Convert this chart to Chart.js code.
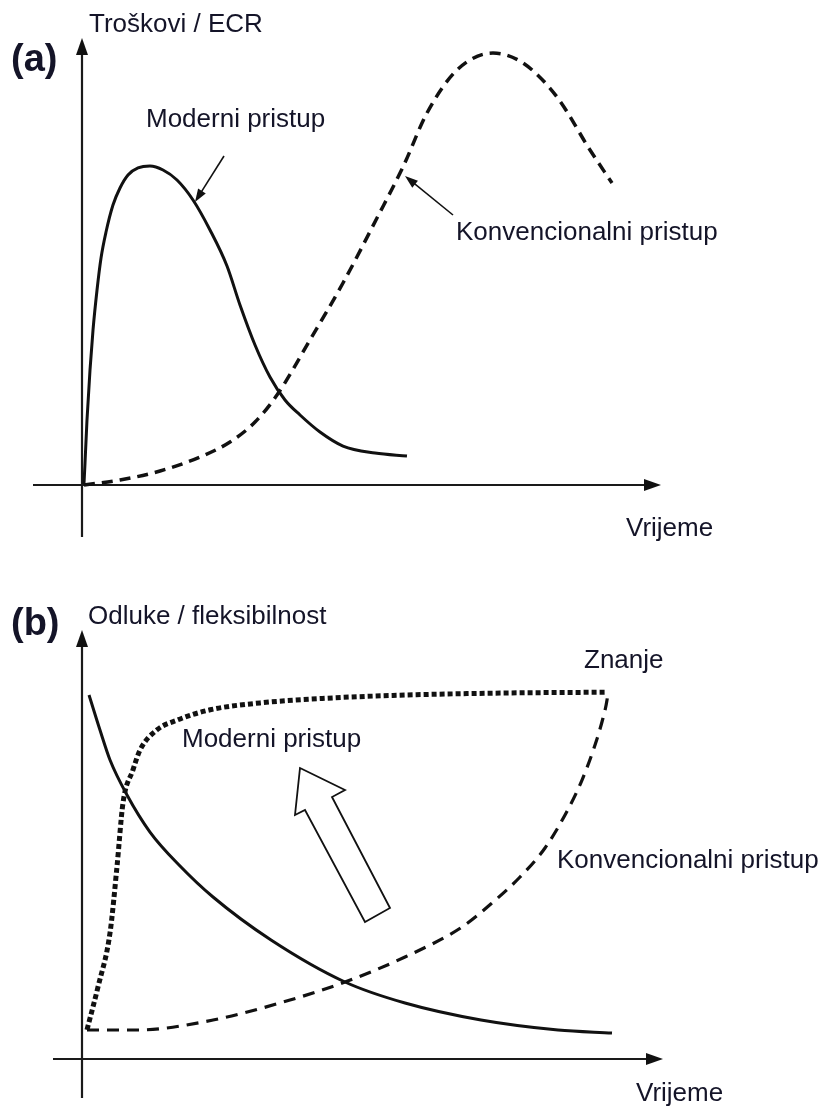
<!DOCTYPE html>
<html><head><meta charset="utf-8">
<script src="https://cdn.jsdelivr.net/npm/chart.js@4.4.1/dist/chart.umd.min.js"></script>
<style>html,body{margin:0;padding:0;background:#fff;} canvas{display:block;}</style>
</head><body>
<canvas id="ca" width="821" height="555"></canvas>
<canvas id="cb" width="821" height="555"></canvas>
<script>
// ---------- DATA (time 0..100, value 0..100) ----------
// Panel (a): Troškovi / ECR
const aModernX = [0.34,0.52,0.86,1.38,1.90,2.59,3.28,4.14,5.34,6.55,7.93,9.66,11.72,13.97,16.38,19.14,22.07,25.0,27.24,29.83,32.41,35.0,37.59,41.03,45.0,50.52,56.03];
const aModernY = [0.22,4.92,14.54,25.73,34.68,43.62,50.78,56.60,62.64,66.44,69.35,70.92,71.36,70.47,68.23,63.76,57.05,48.99,40.27,31.32,24.16,19.02,15.66,11.86,8.72,7.16,6.49];
const aConvX = [0.34,6.55,13.45,20.34,25.52,29.83,33.62,39.31,45.0,50.86,55.34,59.48,64.66,70.86,76.03,81.9,87.59,91.38];
const aConvY = [0,1.12,3.13,6.26,9.62,14.09,20.13,32.44,45.19,59.73,71.14,83.22,92.84,96.64,94.41,86.80,74.94,67.56];
// Panel (b): Odluke / fleksibilnost
const bDecX = [1.21,3.10,4.83,7.76,11.72,16.90,22.59,32.59,45.34,55.69,68.79,82.07,91.38];
const bDecY = [84.85,76.69,69.70,61.54,52.91,44.99,37.76,27.74,17.95,13.05,9.09,6.76,6.06];
const bModernX = [0.86,2.76,4.83,6.03,7.07,8.79,10.0,12.9,16.4,22.1,30.7,42.2,54.8,72.1,90.5];
const bModernY = [6.8,16.8,29.4,44.8,59.7,67.4,72.0,76.7,79.0,81.4,83.0,84.1,84.8,85.3,85.5];
const bConvX = [0.86,9.48,22.59,35.86,45.34,55.69,65.52,70.69,75.52,79.83,83.28,86.21,88.45,89.83,90.52,90.69];
const bConvY = [6.76,6.76,9.09,13.75,17.95,23.78,30.77,36.36,42.42,49.18,56.88,65.03,73.19,79.49,83.68,85.55];

// ---------- TEXT ----------
const aTag = '(a)', bTag = '(b)';
const aYTitle = 'Troškovi / ECR';
const bYTitle = 'Odluke / fleksibilnost';
const xTitle = 'Vrijeme';
const lblModern = 'Moderni pristup';
const lblConv = 'Konvencionalni pristup';
const lblKnow = 'Znanje';

const pts = (xs, ys) => xs.map((x, i) => ({x, y: ys[i]}));
const FONT = '"Liberation Sans", Arial, sans-serif';
const INK = '#141428';
const LBL = '26px ' + FONT;

function arrowHead(ctx, x1, y1, x2, y2, len, w){
  const a = Math.atan2(y2 - y1, x2 - x1);
  ctx.beginPath();
  ctx.moveTo(x2, y2);
  ctx.lineTo(x2 - len*Math.cos(a) + w/2*Math.sin(a), y2 - len*Math.sin(a) - w/2*Math.cos(a));
  ctx.lineTo(x2 - len*Math.cos(a) - w/2*Math.sin(a), y2 - len*Math.sin(a) + w/2*Math.cos(a));
  ctx.closePath();
  ctx.fill();
}
function lineArrow(ctx, x1, y1, x2, y2, lw, len, w){
  ctx.save();
  ctx.strokeStyle = '#111'; ctx.fillStyle = '#111'; ctx.lineWidth = lw;
  const a = Math.atan2(y2 - y1, x2 - x1);
  ctx.beginPath(); ctx.moveTo(x1, y1); ctx.lineTo(x2 - (len-2)*Math.cos(a), y2 - (len-2)*Math.sin(a)); ctx.stroke();
  arrowHead(ctx, x1, y1, x2, y2, len, w);
  ctx.restore();
}
function drawAxes(chart, o){
  const ctx = chart.ctx;
  const x0 = chart.scales.x.getPixelForValue(0);
  const y0 = chart.scales.y.getPixelForValue(0);
  ctx.save();
  ctx.strokeStyle = '#1a1a1a'; ctx.fillStyle = '#111'; ctx.lineWidth = 2.2;
  ctx.beginPath(); ctx.moveTo(x0, o.yBottom); ctx.lineTo(x0, o.yTip + 12); ctx.stroke();
  arrowHead(ctx, x0, o.yBottom, x0, o.yTip, 17, 12);
  ctx.beginPath(); ctx.moveTo(o.xLeft, y0); ctx.lineTo(o.xTip - 12, y0); ctx.stroke();
  arrowHead(ctx, o.xLeft, y0, o.xTip, y0, 17, 12);
  ctx.restore();
}
function text(ctx, s, x, y, font){
  ctx.save(); ctx.fillStyle = INK; ctx.font = font; ctx.textBaseline = 'alphabetic'; ctx.textAlign = 'left';
  ctx.fillText(s, x, y); ctx.restore();
}

const common = (padTop, padBottom) => ({
  responsive: false, animation: false, devicePixelRatio: 1,
  layout: {padding: {left: 82, right: 159, top: padTop, bottom: padBottom}},
  scales: {
    x: {type: 'linear', min: 0, max: 100, display: false},
    y: {type: 'linear', min: 0, max: 100, display: false}
  },
  plugins: {legend: {display: false}, tooltip: {enabled: false}},
  elements: {point: {radius: 0}, line: {cubicInterpolationMode: 'monotone', borderCapStyle: 'butt', borderJoinStyle: 'round'}}
});

const panelA = {
  id: 'panelA',
  beforeDatasetsDraw(chart){
    drawAxes(chart, {yTip: 38, yBottom: 537, xLeft: 33, xTip: 661});
  },
  afterDraw(chart){
    const ctx = chart.ctx;
    text(ctx, aTag, 11, 71, 'bold 38px ' + FONT);
    text(ctx, aYTitle, 89, 32, LBL);
    text(ctx, lblModern, 146, 127, LBL);
    text(ctx, lblConv, 456, 240, LBL);
    text(ctx, xTitle, 626, 536, LBL);
    lineArrow(ctx, 224, 156, 195, 202, 1.6, 13, 9);
    lineArrow(ctx, 453, 215, 405, 176, 1.6, 13, 9);
  }
};
const panelB = {
  id: 'panelB',
  beforeDatasetsDraw(chart){
    drawAxes(chart, {yTip: 75, yBottom: 543, xLeft: 53, xTip: 663});
  },
  afterDraw(chart){
    const ctx = chart.ctx;
    text(ctx, bTag, 11, 80, 'bold 38px ' + FONT);
    text(ctx, bYTitle, 88, 69, LBL);
    text(ctx, lblKnow, 584, 113, LBL);
    text(ctx, lblModern, 182, 192, LBL);
    text(ctx, lblConv, 557, 313, LBL);
    text(ctx, xTitle, 636, 546, LBL);
    ctx.save();
    ctx.beginPath();
    const P = [[300,213],[345,235],[332,242],[390,353],[365,367],[305,255],[295,260]];
    ctx.moveTo(P[0][0], P[0][1]);
    for (let i = 1; i < P.length; i++) ctx.lineTo(P[i][0], P[i][1]);
    ctx.closePath();
    ctx.fillStyle = '#fff'; ctx.fill();
    ctx.strokeStyle = '#111'; ctx.lineWidth = 1.8; ctx.lineJoin = 'miter'; ctx.stroke();
    ctx.restore();
  }
};

new Chart(document.getElementById('ca'), {
  type: 'line',
  data: {datasets: [
    {label: lblModern, data: pts(aModernX, aModernY), borderColor: '#111', borderWidth: 3, clip: false},
    {label: lblConv, data: pts(aConvX, aConvY), borderColor: '#111', borderWidth: 3.5, borderDash: [11, 7], clip: false}
  ]},
  options: common(38, 555 - 485),
  plugins: [panelA]
});

new Chart(document.getElementById('cb'), {
  type: 'line',
  data: {datasets: [
    {label: 'Odluke', data: pts(bDecX, bDecY), borderColor: '#111', borderWidth: 3, clip: false},
    {label: lblModern, data: pts(bModernX, bModernY), borderColor: '#111', borderWidth: 5, borderDash: [5, 3], clip: false},
    {label: lblConv, data: pts(bConvX, bConvY), borderColor: '#111', borderWidth: 3.2, borderDash: [12, 8], clip: false}
  ]},
  options: common(75, 555 - 504),
  plugins: [panelB]
});
</script>
</body></html>
